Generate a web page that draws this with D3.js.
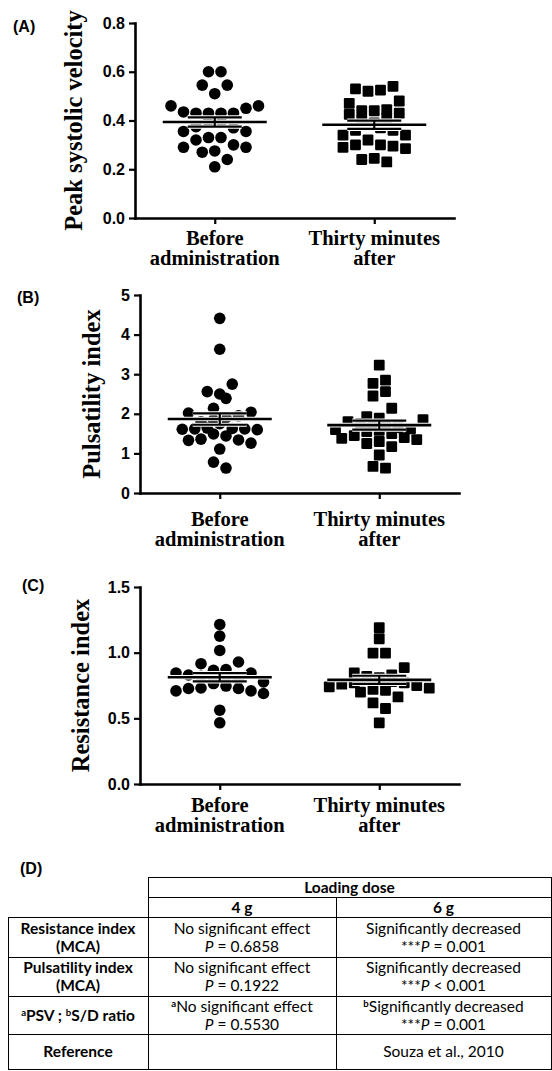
<!DOCTYPE html>
<html>
<head>
<meta charset="utf-8">
<script src="https://cdn.jsdelivr.net/npm/d3@7"></script>
<style>
  html, body { margin: 0; padding: 0; background: #fff; }
  svg { display: block; }
</style>
</head>
<body>
<svg id="fig" width="552" height="1071"></svg>
<script>
// ---- categories ----
const groupKeys = ["before", "after"];
const groupLabels = [["Before", "administration"], ["Thirty minutes", "after"]];

// ---- (A) peak systolic velocity ----
const psvBefore = [0.60, 0.60, 0.545, 0.545, 0.51, 0.46, 0.45, 0.46, 0.43, 0.43, 0.43, 0.43, 0.435,
  0.395, 0.395, 0.37, 0.355, 0.355, 0.375, 0.32, 0.33, 0.33, 0.29, 0.29, 0.30, 0.275, 0.27, 0.24, 0.21];
const psvAfter = [0.54, 0.525, 0.52, 0.53, 0.48, 0.47, 0.44, 0.43, 0.445, 0.425, 0.44, 0.41, 0.40, 0.39,
  0.38, 0.37, 0.36, 0.36, 0.34, 0.34, 0.32, 0.30, 0.29, 0.285, 0.295, 0.30, 0.245, 0.23, 0.24];
const psvTicks = [0, 0.2, 0.4, 0.6, 0.8];
const psvTickLabels = ["0.0", "0.2", "0.4", "0.6", "0.8"];

// ---- (B) pulsatility index ----
const piBefore = [4.41, 3.63, 2.75, 2.56, 2.50, 2.39, 2.14, 2.02, 2.04, 1.95, 1.90, 1.85, 1.80, 1.75,
  1.63, 1.62, 1.60, 1.61, 1.62, 1.64, 1.44, 1.49, 1.34, 1.26, 1.33, 1.36, 1.11, 0.78, 0.63];
const piAfter = [3.23, 2.85, 2.77, 2.56, 2.45, 2.14, 1.93, 1.85, 1.89, 1.80, 1.75, 1.72, 1.68, 1.65,
  1.62, 1.60, 1.58, 1.55, 1.50, 1.45, 1.40, 1.38, 1.35, 1.30, 1.25, 1.17, 0.96, 0.63, 0.67];
const piTicks = [0, 1, 2, 3, 4, 5];
const piTickLabels = ["0", "1", "2", "3", "4", "5"];

// ---- (C) resistance index ----
const riBefore = [1.215, 1.126, 1.017, 0.916, 0.929, 0.866, 0.871, 0.845, 0.845, 0.83, 0.82, 0.82, 0.81,
  0.80, 0.777, 0.765, 0.746, 0.731, 0.727, 0.727, 0.709, 0.709, 0.689, 0.562, 0.466];
const riAfter = [1.19, 1.106, 0.997, 0.997, 0.886, 0.845, 0.83, 0.82, 0.81, 0.80, 0.79, 0.78, 0.77,
  0.77, 0.76, 0.75, 0.74, 0.73, 0.72, 0.70, 0.714, 0.663, 0.617, 0.575, 0.466];
const riTicks = [0, 0.5, 1.0, 1.5];
const riTickLabels = ["0.0", "0.5", "1.0", "1.5"];

// ---- (D) summary table ----
const tableTitle = "Loading dose";
const doseLevels = ["4 g", "6 g"];
// rich text: each cell is a list of lines, each line a list of runs
const rowLabels = [
  [[{ t: "Resistance index" }], [{ t: "(MCA)" }]],
  [[{ t: "Pulsatility index" }], [{ t: "(MCA)" }]],
  [[{ t: "a", sup: true }, { t: "PSV ; " }, { t: "b", sup: true }, { t: "S/D ratio" }]],
  [[{ t: "Reference" }]]
];
const dose4g = [
  [[{ t: "No significant effect" }], [{ t: "P", it: true }, { t: " = 0.6858" }]],
  [[{ t: "No significant effect" }], [{ t: "P", it: true }, { t: " = 0.1922" }]],
  [[{ t: "a", sup: true }, { t: "No significant effect" }], [{ t: "P", it: true }, { t: " = 0.5530" }]],
  []
];
const dose6g = [
  [[{ t: "Significantly decreased" }], [{ t: "***" }, { t: "P", it: true }, { t: " = 0.001" }]],
  [[{ t: "Significantly decreased" }], [{ t: "***" }, { t: "P", it: true }, { t: " < 0.001" }]],
  [[{ t: "b", sup: true }, { t: "Significantly decreased" }], [{ t: "***" }, { t: "P", it: true }, { t: " = 0.001" }]],
  [[{ t: "Souza et al., 2010" }]]
];

// ================= drawing =================
const W = 552, H = 1071;
const svg = d3.select("#fig");
svg.append("rect").attr("width", W).attr("height", H).attr("fill", "#fff");

const SERIF = "'Liberation Serif', 'Times New Roman', serif";
const SANS = "'Liberation Sans', Arial, sans-serif";
const TABLE_FONT = "Lato, 'Open Sans', sans-serif";

const panels = [
  { tag: "(A)", title: "Peak systolic velocity", groups: [psvBefore, psvAfter],
    ticks: psvTicks, tickLabels: psvTickLabels,
    left: 135, right: 454, top: 23, bottom: 218, tagX: 13, tagY: 32, titleX: 73, labelY: 245 },
  { tag: "(B)", title: "Pulsatility index", groups: [piBefore, piAfter],
    ticks: piTicks, tickLabels: piTickLabels,
    left: 140, right: 459, top: 295, bottom: 493, tagX: 17, tagY: 303, titleX: 91, labelY: 526 },
  { tag: "(C)", title: "Resistance index", groups: [riBefore, riAfter],
    ticks: riTicks, tickLabels: riTickLabels,
    left: 140, right: 459, top: 587, bottom: 784, tagX: 22, tagY: 591, titleX: 80, labelY: 812 }
];

const STEP = 12.5;      // horizontal spacing between neighbouring symbols
const DOT_R = 5.8;      // circle radius
const SQ = 10.8;        // square side
const ROW_GAP = 10;     // px: values closer than this share a row

// Row-based scatter layout: points whose values are close share a row and are
// spread symmetrically around the group centre, closest-to-mean in the middle.
function swarm(values, y) {
  const mean = d3.mean(values);
  const sorted = values.map(v => ({ v })).sort((a, b) => b.v - a.v);
  const rows = [];
  let cur = null;
  for (const p of sorted) {
    if (!cur || y(p.v) - y(cur[0].v) > ROW_GAP) { cur = [p]; rows.push(cur); }
    else cur.push(p);
  }
  for (const row of rows) {
    const n = row.length;
    const offs = d3.range(n).map(k => (k - (n - 1) / 2) * STEP)
      .sort((a, b) => Math.abs(a) - Math.abs(b) || a - b);
    const byMean = row.slice().sort((a, b) => Math.abs(a.v - mean) - Math.abs(b.v - mean));
    byMean.forEach((p, i) => { p.dx = offs[i]; });
  }
  return sorted;
}

function drawPanel(p) {
  const g = svg.append("g");
  const y = d3.scaleLinear().domain([0, d3.max(p.ticks)]).range([p.bottom, p.top]);
  const x = d3.scalePoint().domain(groupKeys).range([p.left, p.right]).padding(0.5);

  // y axis
  const ya = g.append("g").attr("transform", `translate(${p.left},0)`)
    .call(d3.axisLeft(y).tickValues(p.ticks).tickFormat((d, i) => p.tickLabels[i])
      .tickSize(6).tickSizeOuter(0).tickPadding(4));
  // x axis
  const xa = g.append("g").attr("transform", `translate(0,${p.bottom})`)
    .call(d3.axisBottom(x).tickSize(6).tickSizeOuter(0).tickFormat(""));

  [ya, xa].forEach(a => {
    a.select(".domain").attr("stroke", "#000").attr("stroke-width", 2.6).attr("stroke-linecap", "square");
    a.selectAll(".tick line").attr("stroke", "#000").attr("stroke-width", 2.2);
  });
  ya.selectAll(".tick text").attr("font-family", SANS).attr("font-weight", "bold")
    .attr("font-size", 16).attr("fill", "#000");

  // category labels
  groupKeys.forEach((k, i) => {
    const t = g.append("text").attr("x", x(k)).attr("text-anchor", "middle")
      .attr("font-family", SERIF).attr("font-weight", "bold").attr("font-size", 20.5).attr("fill", "#000");
    groupLabels[i].forEach((line, j) => {
      t.append("tspan").attr("x", x(k)).attr("y", p.labelY + j * 20).text(line);
    });
  });

  // y title
  g.append("text")
    .attr("transform", `translate(${p.titleX},${(p.top + p.bottom) / 2}) rotate(-90)`)
    .attr("text-anchor", "middle").attr("dominant-baseline", "central")
    .attr("font-family", SERIF).attr("font-weight", "bold").attr("font-size", 24.5).attr("fill", "#000")
    .text(p.title);

  // panel tag
  g.append("text").attr("x", p.tagX).attr("y", p.tagY)
    .attr("font-family", SANS).attr("font-weight", "bold").attr("font-size", 16).attr("fill", "#000")
    .text(p.tag);

  // points
  p.groups.forEach((vals, gi) => {
    const cx = x(groupKeys[gi]);
    const pts = swarm(vals, y);
    if (gi === 0) {
      g.append("g").selectAll("circle").data(pts).join("circle")
        .attr("cx", d => cx + d.dx).attr("cy", d => y(d.v)).attr("r", DOT_R).attr("fill", "#000");
    } else {
      g.append("g").selectAll("rect").data(pts).join("rect")
        .attr("x", d => cx + d.dx - SQ / 2).attr("y", d => y(d.v) - SQ / 2)
        .attr("width", SQ).attr("height", SQ).attr("rx", 1.2).attr("fill", "#000");
    }

    // mean with SEM
    const m = d3.mean(vals);
    const sem = d3.deviation(vals) / Math.sqrt(vals.length);
    const segs = [
      { x1: cx - 52, x2: cx + 52, y1: y(m), y2: y(m), w: 2.6 },
      { x1: cx - 27, x2: cx + 27, y1: y(m + sem), y2: y(m + sem), w: 2.2 },
      { x1: cx - 27, x2: cx + 27, y1: y(m - sem), y2: y(m - sem), w: 2.2 },
      { x1: cx, x2: cx, y1: y(m + sem), y2: y(m - sem), w: 2.2 }
    ];
    const lg = g.append("g");
    lg.selectAll("line.halo").data(segs).join("line").attr("class", "halo")
      .attr("x1", d => d.x1).attr("x2", d => d.x2).attr("y1", d => d.y1).attr("y2", d => d.y2)
      .attr("stroke", "#fff").attr("stroke-width", d => d.w + 2);
    lg.selectAll("line.bar").data(segs).join("line").attr("class", "bar")
      .attr("x1", d => d.x1).attr("x2", d => d.x2).attr("y1", d => d.y1).attr("y2", d => d.y2)
      .attr("stroke", "#000").attr("stroke-width", d => d.w);
  });
}

panels.forEach(drawPanel);

// ---------- (D) table ----------
const tg = svg.append("g");
tg.append("text").attr("x", 20).attr("y", 874)
  .attr("font-family", SANS).attr("font-weight", "bold").attr("font-size", 16).attr("fill", "#000")
  .text("(D)");

const cols = [8, 148, 336, 551];
const rowsY = [877, 897, 917, 957, 996, 1034, 1069];
const FS = 15.5;

function hline(x1, x2, yy) {
  tg.append("line").attr("x1", x1).attr("x2", x2).attr("y1", yy + 0.5).attr("y2", yy + 0.5)
    .attr("stroke", "#000").attr("stroke-width", 1);
}
function vline(xx, y1, y2) {
  tg.append("line").attr("x1", xx + 0.5).attr("x2", xx + 0.5).attr("y1", y1).attr("y2", y2 + 1)
    .attr("stroke", "#000").attr("stroke-width", 1);
}
// header block
hline(cols[1], cols[3], rowsY[0]);
hline(cols[1], cols[3], rowsY[1]);
vline(cols[1], rowsY[0], rowsY[2]);
vline(cols[3], rowsY[0], rowsY[2]);
vline(cols[2], rowsY[1], rowsY[2]);
// body
for (let r = 2; r < rowsY.length; r++) hline(cols[0], cols[3], rowsY[r]);
vline(cols[0], rowsY[2], rowsY[rowsY.length - 1]);
vline(cols[1], rowsY[2], rowsY[rowsY.length - 1]);
vline(cols[2], rowsY[1], rowsY[rowsY.length - 1]);
vline(cols[3], rowsY[2], rowsY[rowsY.length - 1]);

function cellText(lines, cx, y0, y1, bold) {
  const n = lines.length;
  const mid = (y0 + y1) / 2;
  const lh = 18;
  lines.forEach((runs, li) => {
    const base = mid + (li - (n - 1) / 2) * lh + FS * 0.36;
    const t = tg.append("text").attr("x", cx).attr("y", base).attr("text-anchor", "middle")
      .attr("font-family", TABLE_FONT).attr("font-size", FS).attr("fill", "#000")
      .attr("font-weight", bold ? "bold" : "normal");
    runs.forEach(r => {
      const s = t.append("tspan").text(r.t);
      if (r.it) s.attr("font-style", "italic");
      if (r.sup) s.attr("font-size", FS * 0.62).attr("baseline-shift", "super").attr("font-weight", "bold");
    });
  });
}

cellText([[{ t: tableTitle }]], (cols[1] + cols[3]) / 2, rowsY[0], rowsY[1], true);
doseLevels.forEach((d, i) => cellText([[{ t: d }]], (cols[1 + i] + cols[2 + i]) / 2, rowsY[1], rowsY[2], true));
rowLabels.forEach((lab, r) => {
  const y0 = rowsY[2 + r], y1 = rowsY[3 + r];
  cellText(lab, (cols[0] + cols[1]) / 2, y0, y1, true);
  cellText(dose4g[r], (cols[1] + cols[2]) / 2, y0, y1, false);
  cellText(dose6g[r], (cols[2] + cols[3]) / 2, y0, y1, false);
});
</script>
</body>
</html>
